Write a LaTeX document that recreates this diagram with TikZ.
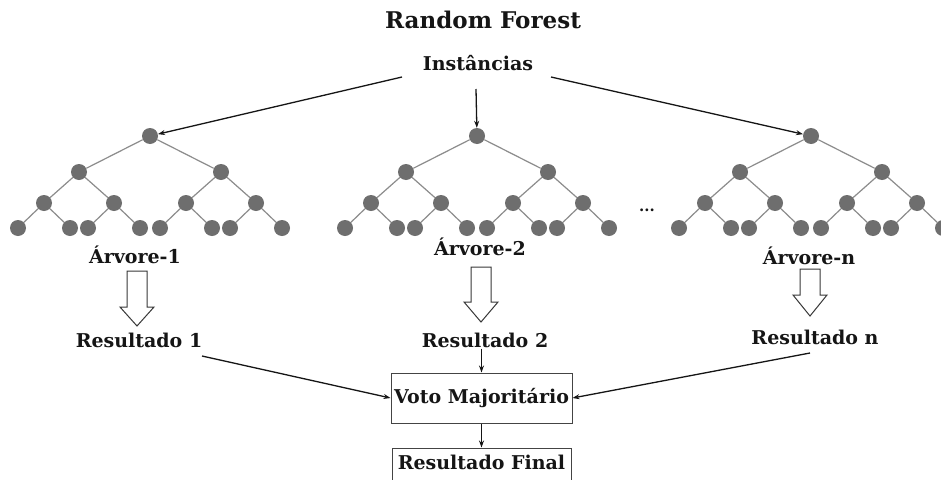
\documentclass[tikz,border=0pt]{standalone}
\usepackage{fontspec}
\setmainfont{DejaVu Serif}
\usetikzlibrary{arrows.meta}
\definecolor{nodegray}{HTML}{6E6E6E}
\definecolor{edgegray}{HTML}{8C8C8C}
\definecolor{ink}{HTML}{151515}
\tikzset{
  tn/.style={circle, fill=nodegray, draw=none, minimum size=16pt, inner sep=0pt},
  edge/.style={draw=edgegray, line width=1.2pt},
  lbl/.style={text=ink, font=\bfseries\fontsize{19}{22}\selectfont, inner sep=1pt},
  flow/.style={draw=ink, line width=1.3pt, -{Stealth[length=7pt,width=5pt]}},
  vbox/.style={draw=ink!80, line width=1pt, text=ink, font=\bfseries\fontsize{19}{22}\selectfont},
  hollow/.style={draw=ink!85, line width=1pt, fill=white}
}
% binary tree of depth 3: root name #1 at x=#2
\newcommand{\rftree}[2]{%
  \node[tn] (#1) at (#2,136) {};
  \foreach \a/\sa in {l/-1,r/1} {
    \node[tn] (#1\a) at (#2+\sa*71,172) {};
    \draw[edge] (#1) -- (#1\a);
    \foreach \b/\sb in {l/-1,r/1} {
      \node[tn] (#1\a\b) at (#2+\sa*71+\sb*35,203) {};
      \draw[edge] (#1\a) -- (#1\a\b);
      \foreach \c/\sc in {l/-1,r/1} {
        \node[tn] (#1\a\b\c) at (#2+\sa*71+\sb*35+\sc*26,228) {};
        \draw[edge] (#1\a\b) -- (#1\a\b\c);
      }
    }
  }%
}
% wide hollow down arrow centred at x=#1, from y=#2 to tip y=#3, head starts at y=#4
\newcommand{\hollowdown}[4]{%
  \draw[hollow] (#1-10,#2) -- (#1+10,#2) -- (#1+10,#4) -- (#1+17,#4) -- (#1,#3)
    -- (#1-17,#4) -- (#1-10,#4) -- cycle;%
}
\begin{document}
\begin{tikzpicture}[x=1pt,y=-1pt]
\clip (0,0) rectangle (941,479);
\fill[white] (0,0) rectangle (941,479);

\node[text=ink, font=\bfseries\fontsize{23}{27}\selectfont] (title) at (483,20) {Random Forest};
\node[lbl] (inst) at (478,63) {Instâncias};

\rftree{ta}{150}
\rftree{tb}{477}
\rftree{tc}{811}

\node[text=ink, font=\bfseries\fontsize{15}{17}\selectfont] (dots) at (647,210) {...};

\coordinate (inl) at (402,77);
\coordinate (inm) at (476,89);
\coordinate (inr) at (551,77);
\draw[flow] (inl) -- (ta);
\draw[flow] (inm) -- (tb);
\draw[flow] (inr) -- (tc);

\node[lbl] (a1) at (135,255) {Árvore-1};
\node[lbl] (a2) at (480,247) {Árvore-2};
\node[lbl] (an) at (809,256) {Árvore-n};

\hollowdown{137}{271}{326}{307}
\hollowdown{481}{267}{322}{302}
\hollowdown{810}{269}{316}{295}

\node[lbl] (r1) at (139,340) {Resultado 1};
\node[lbl] (r2) at (485,340) {Resultado 2};
\node[lbl] (rn) at (815,337) {Resultado n};

\node[vbox, minimum width=181pt, minimum height=50pt, inner sep=0pt] (voto) at (481.5,398) {Voto Majoritário};
\node[vbox, minimum width=179pt, inner xsep=0pt, inner ysep=0pt, text height=21pt, text depth=25pt, anchor=base] (final) at (481.5,469) {Resultado Final};

\coordinate (r1o) at (202,356);
\coordinate (rno) at (810,353);
\draw[flow] (r2.south -| voto.north) -- (voto.north);
\draw[flow] (r1o) -- (voto.west);
\draw[flow] (rno) -- (voto.east);
\draw[flow] (voto.south) -- (final.north);
\end{tikzpicture}
\end{document}
